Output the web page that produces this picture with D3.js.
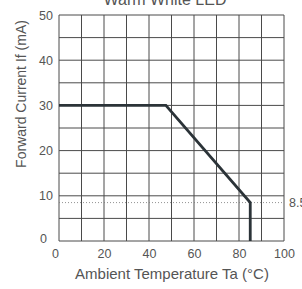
<!DOCTYPE html>
<html>
<head>
<meta charset="utf-8">
<script src="https://cdn.jsdelivr.net/npm/d3@7"></script>
<style>
  body { margin: 0; background: #fff; }
  svg text { font-family: "Liberation Sans", Arial, sans-serif; fill: #555; }
</style>
</head>
<body>
<div id="chart"></div>
<script>
var title = 'Warm White LED';
var x_label = 'Ambient Temperature Ta (°C)';
var y_label = 'Forward Current If (mA)';

var x_ticks = [0, 20, 40, 60, 80, 100];
var y_ticks = [0, 10, 20, 30, 40, 50];

// derating curve
var temp = [0, 47.5, 85, 85];
var current = [30, 30, 8.5, 0];

var limit_value = 8.5;

var margin = {left: 59, top: 15, right: 18, bottom: 48};
var width = 302, height = 289;
var inner_w = 225, inner_h = 226;

var svg = d3.select('#chart').append('svg')
    .attr('width', width)
    .attr('height', height);

var g = svg.append('g')
    .attr('transform', 'translate(' + margin.left + ',' + margin.top + ')');

var x = d3.scaleLinear().domain([0, 100]).range([0, inner_w]);
var y = d3.scaleLinear().domain([0, 50]).range([inner_h, 0]);

// grid
g.append('g').selectAll('line')
    .data(d3.range(0, 101, 10))
    .enter().append('line')
    .attr('x1', function(d) { return x(d); })
    .attr('x2', function(d) { return x(d); })
    .attr('y1', 0).attr('y2', inner_h)
    .attr('stroke', '#4a4a4a').attr('stroke-width', 1);

g.append('g').selectAll('line')
    .data(d3.range(0, 51, 5))
    .enter().append('line')
    .attr('y1', function(d) { return y(d); })
    .attr('y2', function(d) { return y(d); })
    .attr('x1', 0).attr('x2', inner_w)
    .attr('stroke', '#4a4a4a').attr('stroke-width', 1);

// limit dotted line
g.append('line')
    .attr('x1', 0).attr('x2', inner_w)
    .attr('y1', y(limit_value)).attr('y2', y(limit_value))
    .attr('stroke', '#777').attr('stroke-width', 0.8)
    .attr('stroke-dasharray', '1,2');

g.append('text')
    .attr('x', inner_w + 5)
    .attr('y', y(limit_value) + 4)
    .style('font-size', '12.5px')
    .text(limit_value);

// curve
var points = d3.zip(temp, current);
g.append('path')
    .datum(points)
    .attr('fill', 'none')
    .attr('stroke', '#2b3338')
    .attr('stroke-width', 2.8)
    .attr('d', d3.line()
        .x(function(d) { return x(d[0]); })
        .y(function(d) { return y(d[1]); }));

// tick labels
var xAxis = d3.axisBottom(x).tickValues(x_ticks).tickSize(0).tickPadding(8);
var ax = g.append('g')
    .attr('transform', 'translate(0,' + inner_h + ')')
    .call(xAxis);
ax.select('.domain').remove();
ax.selectAll('text').style('font-size', '12.5px').style('fill', '#555')
    .attr('dx', function(d) { return d === 0 ? -4 : 0; });

var yAxis = d3.axisLeft(y).tickValues(y_ticks).tickSize(0).tickPadding(6);
var ay = g.append('g').call(yAxis);
ay.select('.domain').remove();
ay.selectAll('text').style('font-size', '12.5px').style('fill', '#555')
    .attr('dx', function(d) { return d === 0 ? -6 : 0; })
    .attr('dy', function(d) { return d === 0 ? '0.1em' : '0.32em'; });

// titles
svg.append('text')
    .attr('x', 165).attr('y', 5)
    .attr('text-anchor', 'middle')
    .style('font-size', '16px')
    .text(title);

svg.append('text')
    .attr('x', 172).attr('y', 279)
    .attr('text-anchor', 'middle')
    .style('font-size', '15px')
    .text(x_label);

svg.append('text')
    .attr('transform', 'translate(26,' + 94 + ') rotate(-90)')
    .attr('text-anchor', 'middle')
    .style('font-size', '14px')
    .text(y_label);
</script>
</body>
</html>
